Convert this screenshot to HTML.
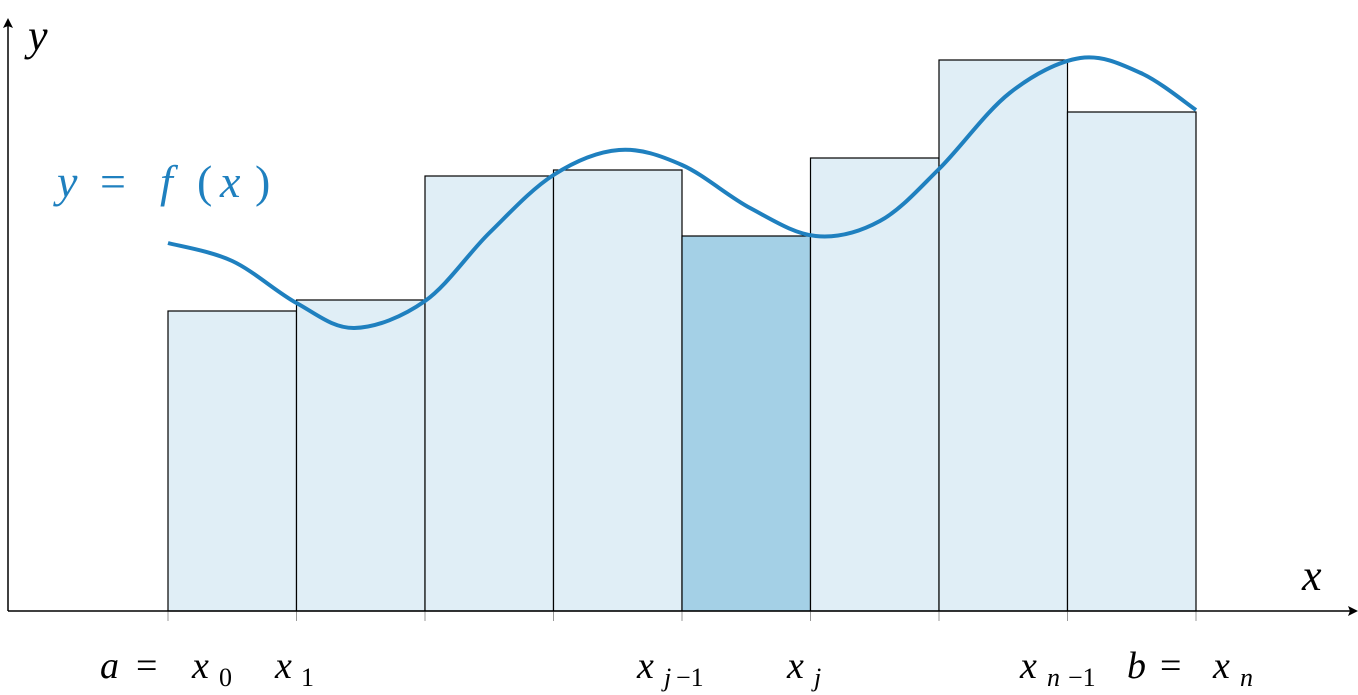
<!DOCTYPE html>
<html><head><meta charset="utf-8"><style>
html,body{margin:0;padding:0;background:#fff;}
svg{display:block;}
.m{font-family:"Liberation Serif",serif;font-style:italic;}
.r{font-family:"Liberation Serif",serif;font-style:normal;}
</style></head><body>
<svg width="1358" height="695" viewBox="0 0 1358 695">
<g id="bars"></g>
<g id="ticks"></g>
<path id="curve" fill="none" stroke="#1f80bf" stroke-width="4"/>
<line x1="8" y1="611" x2="1352" y2="611" stroke="#000" stroke-width="1.5"/>
<polygon points="1358,611 1348,606 1350,611 1348,616" fill="#000"/>
<line x1="8" y1="611" x2="8" y2="24" stroke="#000" stroke-width="1.5"/>
<polygon points="8,18 3,28 8,26 13,28" fill="#000"/>
<text class="m" x="28" y="50" font-size="44">y</text>
<text class="m" x="1302" y="590" font-size="44">x</text>
<g fill="#1f80bf" font-size="46">
<text class="m" x="57" y="197">y</text><text class="r" x="100" y="197">=</text><text class="m" x="160" y="197">f</text><text class="r" x="197" y="197">(</text><text class="m" x="220" y="197">x</text><text class="r" x="255" y="197">)</text>
</g>
<g font-size="38">
<g><text class="m" x="100" y="678">a</text><text class="r" x="136" y="678">=</text><text class="m" x="192" y="678">x</text><text class="r" x="219" y="686" font-size="26">0</text></g>
<g><text class="m" x="275" y="678">x</text><text class="r" x="301" y="686" font-size="26">1</text></g>
<g><text class="m" x="637" y="678">x</text><text class="m" x="664" y="686" font-size="26">j</text><text class="r" x="676" y="686" font-size="26">−1</text></g>
<g><text class="m" x="787" y="678">x</text><text class="m" x="814" y="686" font-size="26">j</text></g>
<g><text class="m" x="1020" y="678">x</text><text class="m" x="1047" y="686" font-size="26">n</text><text class="r" x="1068" y="686" font-size="26">−1</text></g>
<g><text class="m" x="1127" y="678">b</text><text class="r" x="1160" y="678">=</text><text class="m" x="1213" y="678">x</text><text class="m" x="1240" y="686" font-size="26">n</text></g>
</g>
</svg>
<script>
const edges=[0,1,2,3,4,5,6,7,8];
const heights=[3.0,3.11,4.35,4.41,3.75,4.53,5.51,4.99];
const highlight=[4];
const curveX=[0,0.5,1,1.45,2,2.5,3,3.51,4,4.53,5.04,5.54,6,6.55,7.1,7.57,8];
const curveY=[3.68,3.5,3.08,2.83,3.1,3.78,4.36,4.61,4.46,4.03,3.75,3.9,4.42,5.18,5.53,5.38,5.01];
function sx(v){return 168+v*128.5;}
function sy(v){return 611-v*100;}
const ns="http://www.w3.org/2000/svg";
const bars=document.getElementById('bars'),ticks=document.getElementById('ticks');
heights.forEach((h,i)=>{
 const r=document.createElementNS(ns,'rect');
 r.setAttribute('x',sx(edges[i]));r.setAttribute('y',sy(h));
 r.setAttribute('width',sx(edges[i+1])-sx(edges[i]));r.setAttribute('height',sy(0)-sy(h));
 r.setAttribute('fill',highlight.includes(i)?'#a4d0e6':'#e0eef6');
 r.setAttribute('stroke','#000');r.setAttribute('stroke-width','1.2');
 
 
 bars.appendChild(r);
});
edges.forEach(e=>{
 const l=document.createElementNS(ns,'line');
 l.setAttribute('x1',sx(e));l.setAttribute('x2',sx(e));l.setAttribute('y1',611);l.setAttribute('y2',621);
 l.setAttribute('stroke','#999');
 
 
 ticks.appendChild(l);
});
const P=curveX.map((x,i)=>[sx(x),sy(curveY[i])]);
let d='M'+P[0][0]+','+P[0][1];
for(let i=0;i<P.length-1;i++){
 const p0=P[Math.max(0,i-1)],p1=P[i],p2=P[i+1],p3=P[Math.min(P.length-1,i+2)];
 const c1=[p1[0]+(p2[0]-p0[0])/6,p1[1]+(p2[1]-p0[1])/6];
 const c2=[p2[0]-(p3[0]-p1[0])/6,p2[1]-(p3[1]-p1[1])/6];
 d+=' C'+c1+' '+c2+' '+p2;
}
document.getElementById('curve').setAttribute('d',d);
</script>
</body></html>
